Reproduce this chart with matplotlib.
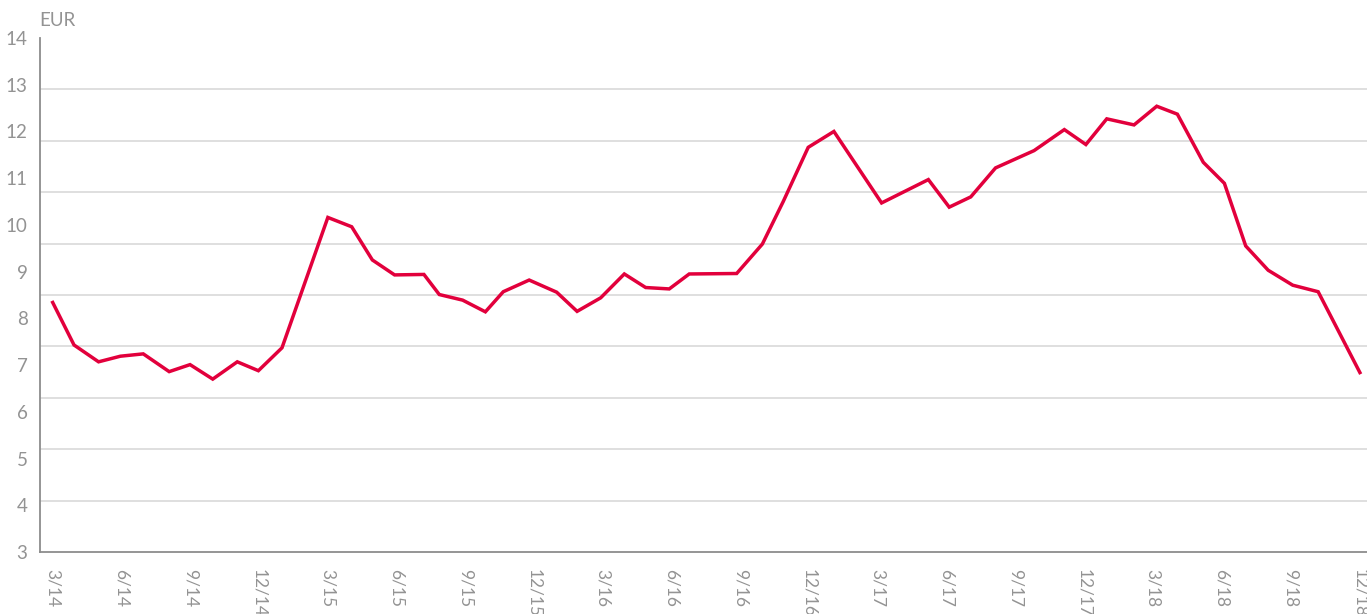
import matplotlib
matplotlib.use("Agg")
import matplotlib.pyplot as plt
from matplotlib.ticker import FixedLocator
import numpy as np

# months after March 2014 (points are not exactly monthly)
months = [0, 0.93, 2.0, 2.95, 3.95, 5.08, 5.99, 6.98, 8.05, 8.97,
          10.0, 12.0, 13.04, 13.94, 14.91, 16.19, 16.86, 17.88, 18.87, 19.65,
          20.78, 21.98, 22.87, 23.9, 24.93, 25.86, 26.89, 27.76, 29.83, 30.95,
          31.86, 32.95, 34.07, 36.15, 38.19, 39.1, 40.04, 41.12, 42.8, 44.12,
          45.06, 45.97, 47.16, 48.15, 49.05, 50.18, 51.1, 52.03, 53.01, 54.08,
          55.19, 57.01]
eur = [8.34, 7.43, 7.07, 7.19, 7.24, 6.86, 7.01, 6.70, 7.07, 6.88,
       7.37, 10.16, 9.96, 9.25, 8.93, 8.94, 8.51, 8.39, 8.14, 8.57,
       8.82, 8.56, 8.15, 8.44, 8.95, 8.66, 8.63, 8.95, 8.96, 9.59,
       10.50, 11.66, 12.00, 10.47, 10.97, 10.38, 10.60, 11.22, 11.59, 12.04,
       11.72, 12.27, 12.14, 12.54, 12.37, 11.34, 10.89, 9.55, 9.03, 8.71,
       8.57, 6.84]

tick_months = list(range(0, 58, 3))
tick_labels = ["3/14", "6/14", "9/14", "12/14", "3/15", "6/15", "9/15", "12/15",
               "3/16", "6/16", "9/16", "12/16", "3/17", "6/17", "9/17", "12/17",
               "3/18", "6/18", "9/18", "12/18"]
y_labels = list(range(3, 15))

plt.rcParams['font.family'] = ['Lato', 'DejaVu Sans']
grey = '#939393'

fig = plt.figure(figsize=(13.67, 6.14), dpi=100)
ax = fig.add_axes([40 / 1367, 1 - 552 / 614, 1 - 40 / 1367, (552 - 38) / 614])

ax.plot(months, eur, color='#E2003C', lw=2.5, solid_joinstyle='miter')

ax.set_xlim(-0.554, 57.32)
ax.set_ylim(3, 14)

ax.set_xticks(tick_months)
ax.set_xticklabels(tick_labels, rotation=-90, va='top', ha='center')
ax.set_yticks(y_labels)
ax.set_yticklabels([str(v) for v in y_labels])

# the horizontal grid has ten bands, not one per label
ax.yaxis.set_minor_locator(FixedLocator(np.linspace(3, 14, 11)[1:]))
ax.grid(which='minor', axis='y', color='#dcdcdc', lw=1.3)
ax.set_axisbelow(True)

ax.tick_params(axis='both', which='both', length=0, colors=grey)
ax.tick_params(axis='x', pad=12, labelsize=12.5)
ax.tick_params(axis='y', pad=9, labelsize=13.5)

for s in ['top', 'right']:
    ax.spines[s].set_visible(False)
ax.spines['left'].set_color('#8c8c8c')
ax.spines['bottom'].set_color('#8c8c8c')
ax.spines['left'].set_linewidth(1.3)
ax.spines['bottom'].set_linewidth(1.3)

fig.text(39 / 1367, 1 - 21 / 614, "EUR", color=grey, fontsize=13.5,
         ha='left', va='center')

fig.savefig("out.png", dpi=100)
